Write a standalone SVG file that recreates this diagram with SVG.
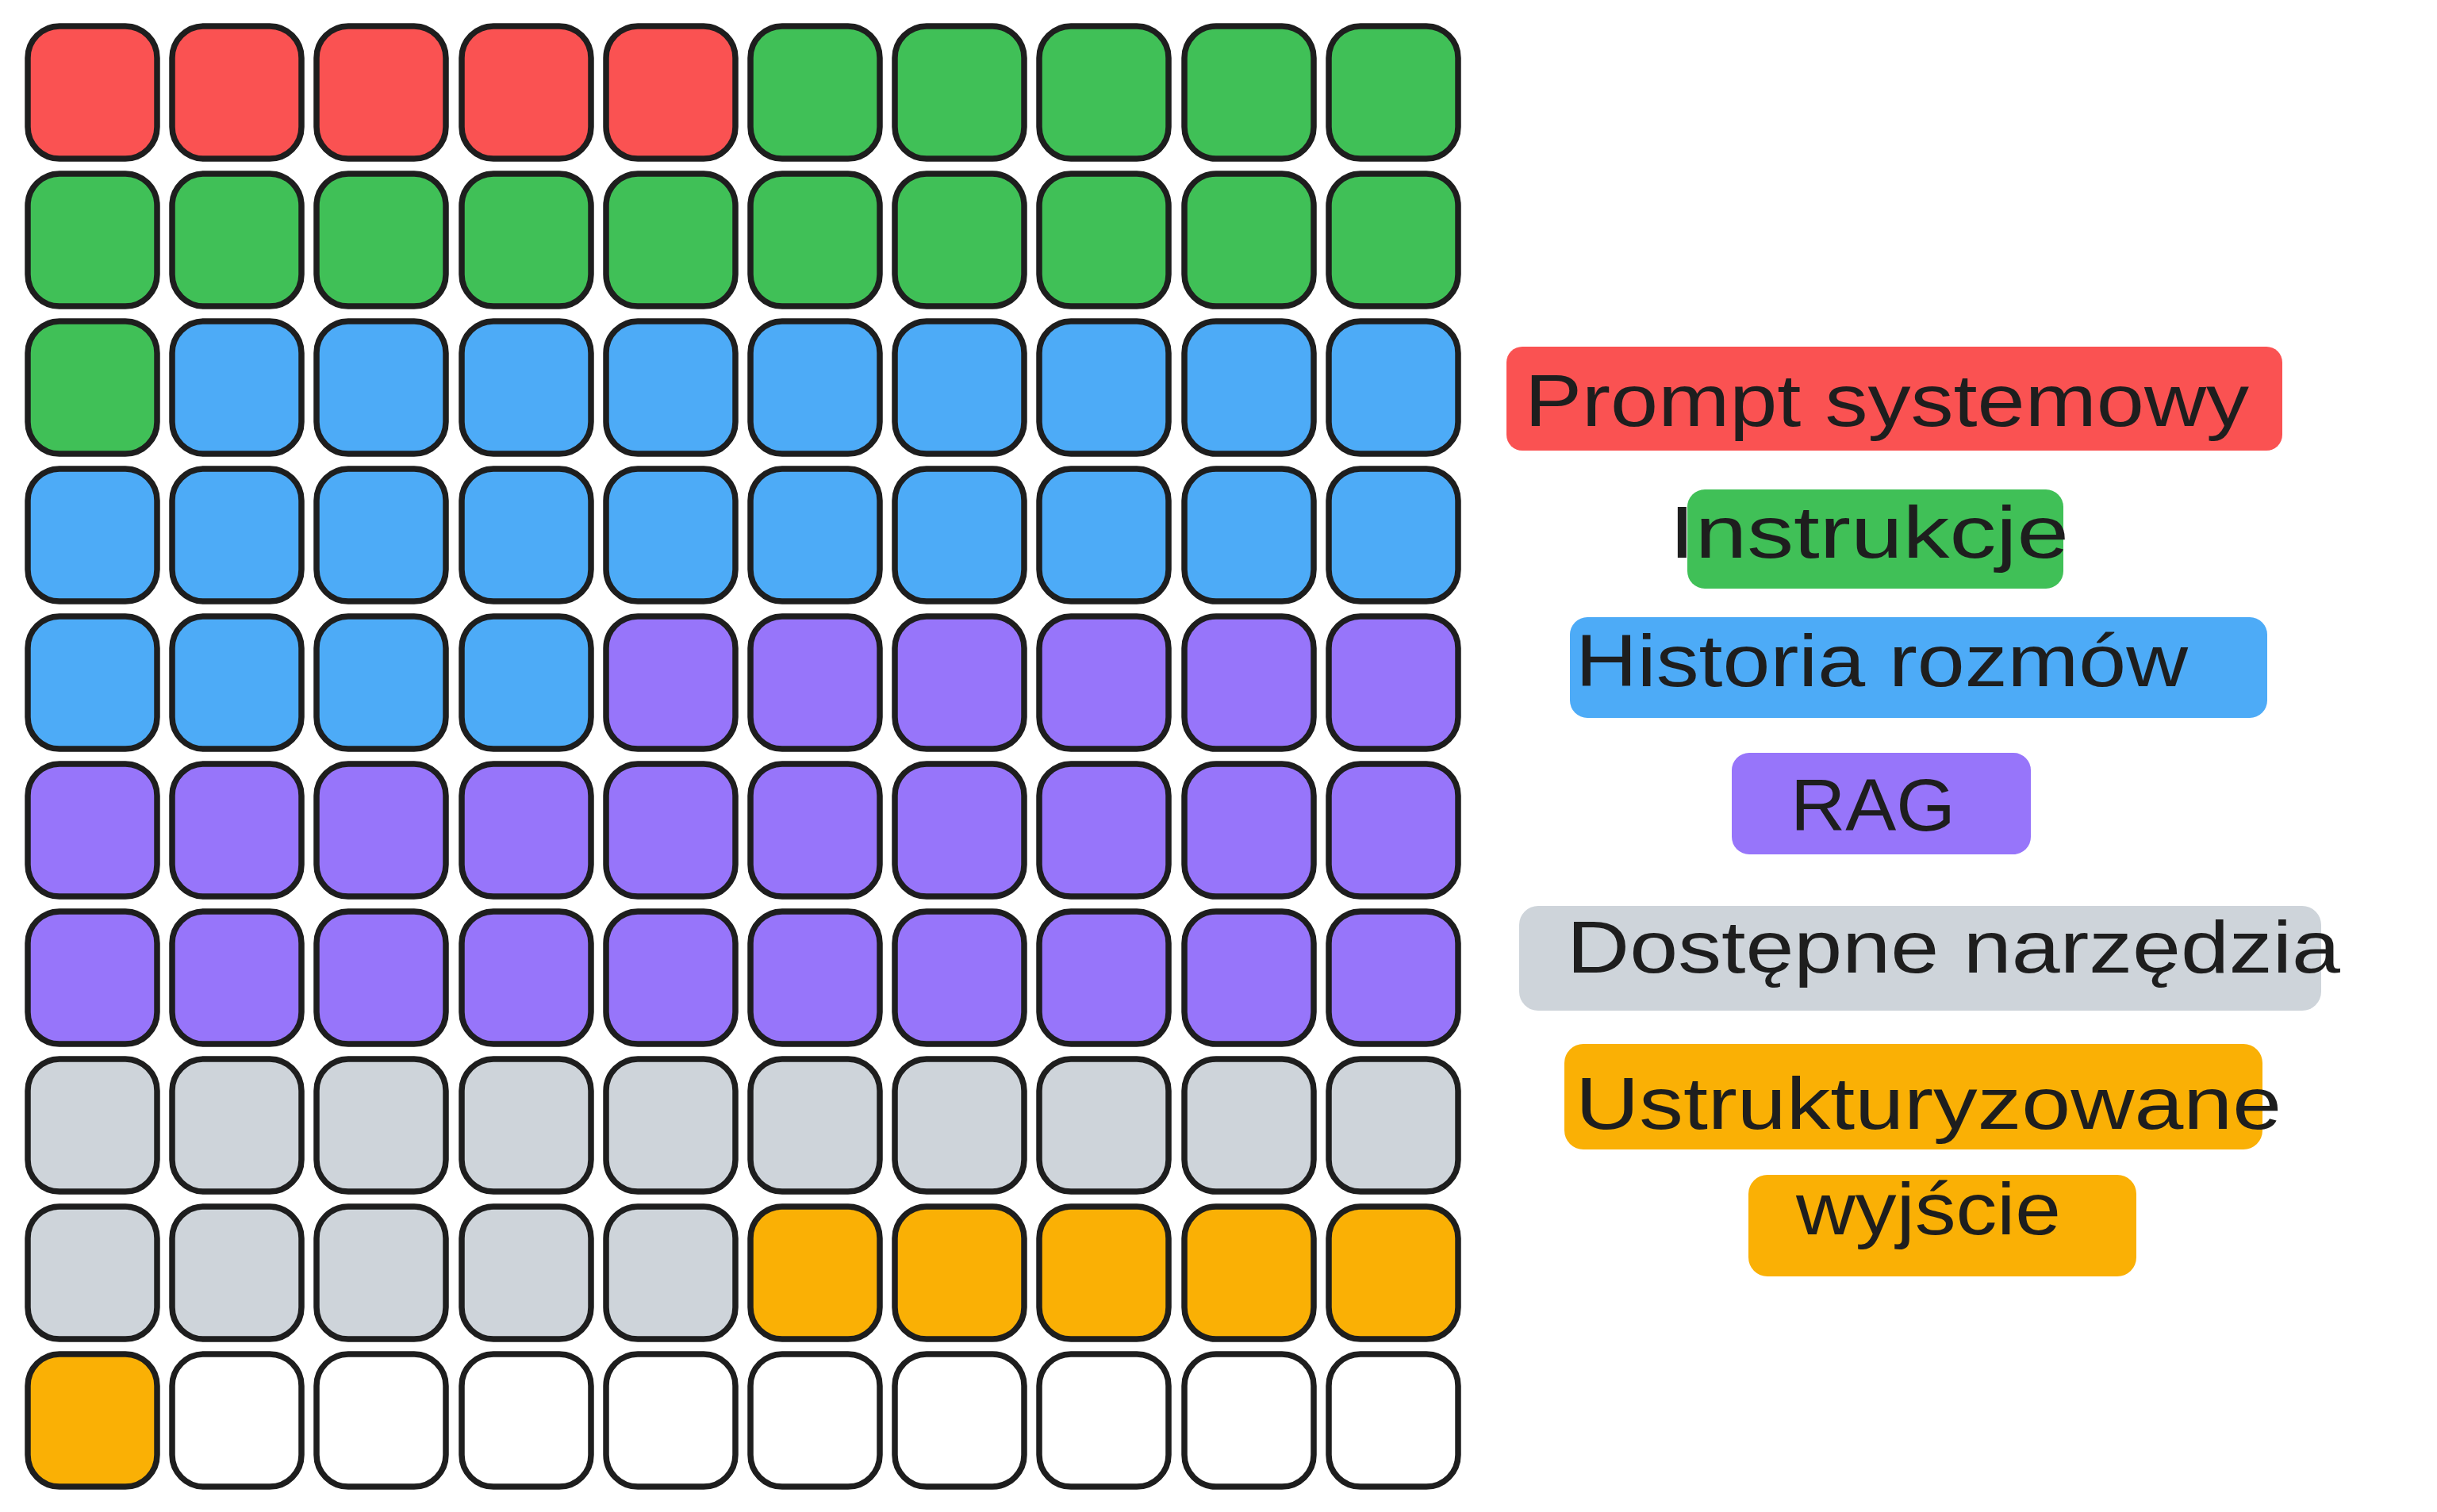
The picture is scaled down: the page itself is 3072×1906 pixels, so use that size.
<svg xmlns="http://www.w3.org/2000/svg" width="3072" height="1906" viewBox="0 0 3072 1906">
<style>
.c{stroke:#1e1e1e;stroke-width:7.5;stroke-linejoin:round}
.r{fill:#fa5252}.g{fill:#40c057}.b{fill:#4dabf7}.p{fill:#9775fa}.k{fill:#ced4da}.o{fill:#fab005}.w{fill:#ffffff}
.t{font-family:"Liberation Sans","DejaVu Sans",sans-serif;font-size:92px;fill:#1e1e1e}
</style>
<rect width="3072" height="1906" fill="#ffffff"/>
<g id="grid">
<g id="row0">
<rect class="c r" x="35" y="33" width="163" height="167" rx="40"/>
<rect class="c r" x="217" y="33" width="163" height="167" rx="40"/>
<rect class="c r" x="399" y="33" width="163" height="167" rx="40"/>
<rect class="c r" x="582" y="33" width="163" height="167" rx="40"/>
<rect class="c r" x="764" y="33" width="163" height="167" rx="40"/>
<rect class="c g" x="946" y="33" width="163" height="167" rx="40"/>
<rect class="c g" x="1128" y="33" width="163" height="167" rx="40"/>
<rect class="c g" x="1310" y="33" width="163" height="167" rx="40"/>
<rect class="c g" x="1493" y="33" width="163" height="167" rx="40"/>
<rect class="c g" x="1675" y="33" width="163" height="167" rx="40"/>
</g>
<g id="row1">
<rect class="c g" x="35" y="219" width="163" height="167" rx="40"/>
<rect class="c g" x="217" y="219" width="163" height="167" rx="40"/>
<rect class="c g" x="399" y="219" width="163" height="167" rx="40"/>
<rect class="c g" x="582" y="219" width="163" height="167" rx="40"/>
<rect class="c g" x="764" y="219" width="163" height="167" rx="40"/>
<rect class="c g" x="946" y="219" width="163" height="167" rx="40"/>
<rect class="c g" x="1128" y="219" width="163" height="167" rx="40"/>
<rect class="c g" x="1310" y="219" width="163" height="167" rx="40"/>
<rect class="c g" x="1493" y="219" width="163" height="167" rx="40"/>
<rect class="c g" x="1675" y="219" width="163" height="167" rx="40"/>
</g>
<g id="row2">
<rect class="c g" x="35" y="405" width="163" height="167" rx="40"/>
<rect class="c b" x="217" y="405" width="163" height="167" rx="40"/>
<rect class="c b" x="399" y="405" width="163" height="167" rx="40"/>
<rect class="c b" x="582" y="405" width="163" height="167" rx="40"/>
<rect class="c b" x="764" y="405" width="163" height="167" rx="40"/>
<rect class="c b" x="946" y="405" width="163" height="167" rx="40"/>
<rect class="c b" x="1128" y="405" width="163" height="167" rx="40"/>
<rect class="c b" x="1310" y="405" width="163" height="167" rx="40"/>
<rect class="c b" x="1493" y="405" width="163" height="167" rx="40"/>
<rect class="c b" x="1675" y="405" width="163" height="167" rx="40"/>
</g>
<g id="row3">
<rect class="c b" x="35" y="591" width="163" height="167" rx="40"/>
<rect class="c b" x="217" y="591" width="163" height="167" rx="40"/>
<rect class="c b" x="399" y="591" width="163" height="167" rx="40"/>
<rect class="c b" x="582" y="591" width="163" height="167" rx="40"/>
<rect class="c b" x="764" y="591" width="163" height="167" rx="40"/>
<rect class="c b" x="946" y="591" width="163" height="167" rx="40"/>
<rect class="c b" x="1128" y="591" width="163" height="167" rx="40"/>
<rect class="c b" x="1310" y="591" width="163" height="167" rx="40"/>
<rect class="c b" x="1493" y="591" width="163" height="167" rx="40"/>
<rect class="c b" x="1675" y="591" width="163" height="167" rx="40"/>
</g>
<g id="row4">
<rect class="c b" x="35" y="777" width="163" height="167" rx="40"/>
<rect class="c b" x="217" y="777" width="163" height="167" rx="40"/>
<rect class="c b" x="399" y="777" width="163" height="167" rx="40"/>
<rect class="c b" x="582" y="777" width="163" height="167" rx="40"/>
<rect class="c p" x="764" y="777" width="163" height="167" rx="40"/>
<rect class="c p" x="946" y="777" width="163" height="167" rx="40"/>
<rect class="c p" x="1128" y="777" width="163" height="167" rx="40"/>
<rect class="c p" x="1310" y="777" width="163" height="167" rx="40"/>
<rect class="c p" x="1493" y="777" width="163" height="167" rx="40"/>
<rect class="c p" x="1675" y="777" width="163" height="167" rx="40"/>
</g>
<g id="row5">
<rect class="c p" x="35" y="963" width="163" height="167" rx="40"/>
<rect class="c p" x="217" y="963" width="163" height="167" rx="40"/>
<rect class="c p" x="399" y="963" width="163" height="167" rx="40"/>
<rect class="c p" x="582" y="963" width="163" height="167" rx="40"/>
<rect class="c p" x="764" y="963" width="163" height="167" rx="40"/>
<rect class="c p" x="946" y="963" width="163" height="167" rx="40"/>
<rect class="c p" x="1128" y="963" width="163" height="167" rx="40"/>
<rect class="c p" x="1310" y="963" width="163" height="167" rx="40"/>
<rect class="c p" x="1493" y="963" width="163" height="167" rx="40"/>
<rect class="c p" x="1675" y="963" width="163" height="167" rx="40"/>
</g>
<g id="row6">
<rect class="c p" x="35" y="1149" width="163" height="167" rx="40"/>
<rect class="c p" x="217" y="1149" width="163" height="167" rx="40"/>
<rect class="c p" x="399" y="1149" width="163" height="167" rx="40"/>
<rect class="c p" x="582" y="1149" width="163" height="167" rx="40"/>
<rect class="c p" x="764" y="1149" width="163" height="167" rx="40"/>
<rect class="c p" x="946" y="1149" width="163" height="167" rx="40"/>
<rect class="c p" x="1128" y="1149" width="163" height="167" rx="40"/>
<rect class="c p" x="1310" y="1149" width="163" height="167" rx="40"/>
<rect class="c p" x="1493" y="1149" width="163" height="167" rx="40"/>
<rect class="c p" x="1675" y="1149" width="163" height="167" rx="40"/>
</g>
<g id="row7">
<rect class="c k" x="35" y="1335" width="163" height="167" rx="40"/>
<rect class="c k" x="217" y="1335" width="163" height="167" rx="40"/>
<rect class="c k" x="399" y="1335" width="163" height="167" rx="40"/>
<rect class="c k" x="582" y="1335" width="163" height="167" rx="40"/>
<rect class="c k" x="764" y="1335" width="163" height="167" rx="40"/>
<rect class="c k" x="946" y="1335" width="163" height="167" rx="40"/>
<rect class="c k" x="1128" y="1335" width="163" height="167" rx="40"/>
<rect class="c k" x="1310" y="1335" width="163" height="167" rx="40"/>
<rect class="c k" x="1493" y="1335" width="163" height="167" rx="40"/>
<rect class="c k" x="1675" y="1335" width="163" height="167" rx="40"/>
</g>
<g id="row8">
<rect class="c k" x="35" y="1521" width="163" height="167" rx="40"/>
<rect class="c k" x="217" y="1521" width="163" height="167" rx="40"/>
<rect class="c k" x="399" y="1521" width="163" height="167" rx="40"/>
<rect class="c k" x="582" y="1521" width="163" height="167" rx="40"/>
<rect class="c k" x="764" y="1521" width="163" height="167" rx="40"/>
<rect class="c o" x="946" y="1521" width="163" height="167" rx="40"/>
<rect class="c o" x="1128" y="1521" width="163" height="167" rx="40"/>
<rect class="c o" x="1310" y="1521" width="163" height="167" rx="40"/>
<rect class="c o" x="1493" y="1521" width="163" height="167" rx="40"/>
<rect class="c o" x="1675" y="1521" width="163" height="167" rx="40"/>
</g>
<g id="row9">
<rect class="c o" x="35" y="1707" width="163" height="167" rx="40"/>
<rect class="c w" x="217" y="1707" width="163" height="167" rx="40"/>
<rect class="c w" x="399" y="1707" width="163" height="167" rx="40"/>
<rect class="c w" x="582" y="1707" width="163" height="167" rx="40"/>
<rect class="c w" x="764" y="1707" width="163" height="167" rx="40"/>
<rect class="c w" x="946" y="1707" width="163" height="167" rx="40"/>
<rect class="c w" x="1128" y="1707" width="163" height="167" rx="40"/>
<rect class="c w" x="1310" y="1707" width="163" height="167" rx="40"/>
<rect class="c w" x="1493" y="1707" width="163" height="167" rx="40"/>
<rect class="c w" x="1675" y="1707" width="163" height="167" rx="40"/>
</g>
</g>
<g id="legend">
<g id="l-prompt">
<rect class="r" x="1899" y="437" width="978" height="131" rx="20"/>
<text class="t" x="1922" y="537" textLength="913" lengthAdjust="spacingAndGlyphs">Prompt systemowy</text>
</g>
<g id="l-instrukcje">
<rect class="g" x="2127" y="617" width="474" height="125" rx="22"/>
<text class="t" x="2104" y="703" textLength="504" lengthAdjust="spacingAndGlyphs">Instrukcje</text>
</g>
<g id="l-historia">
<rect class="b" x="1979" y="778" width="879" height="127" rx="22"/>
<text class="t" x="1986" y="865" textLength="772" lengthAdjust="spacingAndGlyphs">Historia rozmów</text>
</g>
<g id="l-rag">
<rect class="p" x="2183" y="949" width="377" height="128" rx="22"/>
<text class="t" x="2257" y="1047" textLength="208" lengthAdjust="spacingAndGlyphs">RAG</text>
</g>
<g id="l-narzedzia">
<rect class="k" x="1915" y="1142" width="1011" height="132" rx="24"/>
<text class="t" x="1975" y="1226" textLength="975" lengthAdjust="spacingAndGlyphs">Dostępne narzędzia</text>
</g>
<g id="l-wyjscie">
<rect class="o" x="1972" y="1316" width="880" height="133" rx="24"/>
<rect class="o" x="2204" y="1481" width="489" height="128" rx="24"/>
<text class="t" x="1986" y="1423" textLength="890" lengthAdjust="spacingAndGlyphs">Ustrukturyzowane</text>
<text class="t" x="2264" y="1556" textLength="334" lengthAdjust="spacingAndGlyphs">wyjście</text>
</g>
</g>
</svg>
